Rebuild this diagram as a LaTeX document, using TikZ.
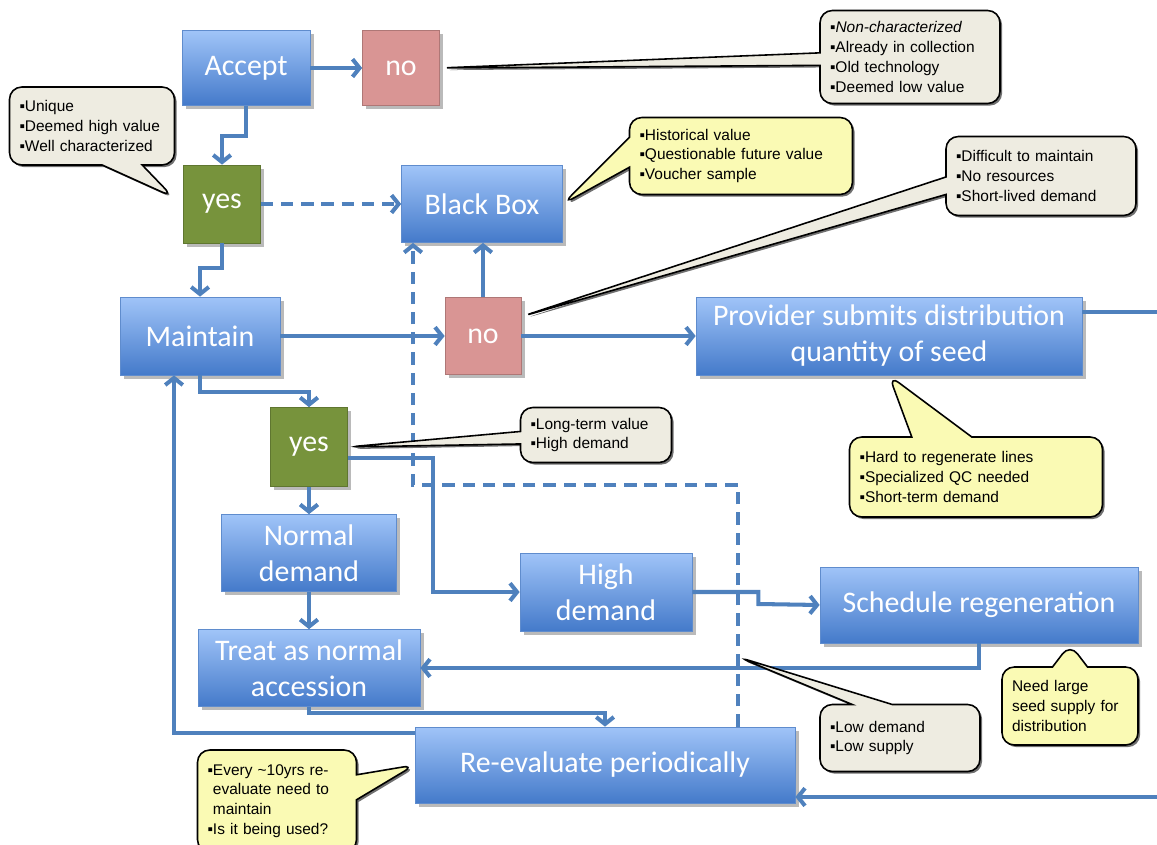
\documentclass[tikz,border=0pt]{standalone}
\usepackage{fontspec}
\setmainfont{Carlito}
\newfontfamily\notefont{Liberation Sans}
\usetikzlibrary{arrows.meta,shapes.callouts,shadows,calc}
\definecolor{boxtop}{RGB}{160,196,248}
\definecolor{boxbot}{RGB}{68,122,202}
\definecolor{boxline}{RGB}{95,140,205}
\definecolor{nofill}{RGB}{217,149,148}
\definecolor{yesfill}{RGB}{119,147,60}
\definecolor{flowblue}{RGB}{79,129,189}
\definecolor{notegray}{RGB}{238,236,225}
\definecolor{noteyellow}{RGB}{250,250,180}
\begin{document}
\begin{tikzpicture}[x=0.02cm,y=-0.02cm,
  boxsize/.style 2 args={minimum width=#1*0.02cm, minimum height=#2*0.02cm},
  boxshadow/.style={drop shadow={shadow xshift=2pt,shadow yshift=-2pt,fill=black!45,opacity=.6}},
  plainbox/.style={text=white, inner sep=0pt, align=center,
    font=\fontsize{17}{20.5}\selectfont, boxshadow},
  bluebox/.style={plainbox, draw=boxline, top color=boxtop, bottom color=boxbot},
  nobox/.style={plainbox, fill=nofill, draw=nofill!80!black},
  yesbox/.style={plainbox, fill=yesfill, draw=yesfill!80!black},
  note/.style={rectangle callout, draw=black, line width=0.9pt, rounded corners=7pt, align=left,
    inner xsep=0.2cm, inner ysep=0pt, font=\notefont\fontsize{8.8}{11.3}\selectfont,
    drop shadow={shadow xshift=1.2pt,shadow yshift=-1.2pt,fill=black!80,opacity=.7}},
  graynote/.style={note, fill=notegray},
  yellownote/.style={note, fill=noteyellow},
  flow/.style={draw=flowblue, line width=2.3pt, -{Straight Barb[length=4pt,width=10pt]}},
  dashflow/.style={flow, dash pattern=on 7pt off 4.5pt}
]
\useasboundingbox (0,0) rectangle (1157,845);
\clip (0,0) rectangle (1157,845);

\node[bluebox, boxsize={128}{75}] (accept) at (246,68) {Accept};
\node[nobox, boxsize={77}{75}] (no1) at (401,68) {no};
\node[yesbox, boxsize={77}{78}] (yes1) at (222,204) {yes};
\node[bluebox, boxsize={161}{77}] (blackbox) at (482,204) {Black Box};
\node[bluebox, boxsize={160}{78}] (maintain) at (200,336) {Maintain};
\node[nobox, boxsize={76}{77}] (no2) at (483,336) {no};
\node[bluebox, boxsize={386}{78}] (provider) at (889,336) {Provider submits distribution\\quantity of seed};
\node[yesbox, boxsize={77}{79}] (yes2) at (309,447) {yes};
\node[bluebox, boxsize={175}{77}] (normal) at (309,553) {Normal\\demand};
\node[bluebox, boxsize={172}{78}] (high) at (606,592) {High\\demand};
\node[bluebox, boxsize={222}{77}] (treat) at (309,668) {Treat as normal\\accession};
\node[bluebox, boxsize={318}{76}] (schedule) at (979,605) {Schedule regeneration};
\node[bluebox, boxsize={380}{76}] (reeval) at (605,765) {Re-evaluate periodically};

\coordinate (rtop) at (1175,312);
\coordinate (rbot) at (1175,797);

\draw[flow] (accept.east) -- (no1.west);
\draw[flow] (accept.south) -- ++(0,30) -| (yes1.north);
\draw[dashflow] (yes1.east) -- (blackbox.west);
\draw[flow] (yes1.south) -- ++(0,25) -| (maintain.north);
\draw[flow] (maintain.east) -- (no2.west);
\draw[flow] (no2.north) -- (no2.north |- blackbox.south);
\draw[flow] (no2.east) -- (provider.west);
\draw[flow] (provider.east |- rtop) -- (rtop) -- (rbot) -- (reeval.east |- rbot);
\draw[flow] (maintain.south) -- ++(0,17) -| (yes2.north);
\draw[flow] (yes2.south) -- (normal.north);
\draw[flow] (yes2.east) ++(0,11) -- ++(85,0) |- (high.west);
\draw[flow] (normal.south) -- (treat.north);
\draw[flow] (high.east) -- ++(66,0) -- ++(0,12) -- (schedule.west);
\draw[flow] (schedule.south) |- (treat.east);
\draw[flow] (treat.south) -- ++(0,6) -| (reeval.north);
\draw[flow] (reeval.west) ++(0,-32) -| ($(maintain.south)+(-26,0)$);
\draw[dashflow] (reeval.north) ++(133,0) -- ++(0,-242) -| ($(blackbox.south)+(-69,0)$);

\coordinate (uniquetip) at (173,197);
\coordinate (lowtip) at (738,657);
\coordinate (needtip) at (1070,644);

\node[graynote, boxsize={180}{93}, text width=3.2cm, callout pointer width=0.25cm,
  callout absolute pointer={(no1.east)}] (noteno) at (910,57)
  {▪\textit{Non-characterized}\\▪Already in collection\\▪Old technology\\▪Deemed low value};
\node[graynote, boxsize={165}{78}, text width=2.9cm, callout pointer width=0.8cm,
  callout absolute pointer={(uniquetip)}] (noteyes) at (92,126)
  {▪Unique\\▪Deemed high value\\▪Well characterized};
\node[yellownote, boxsize={223}{77}, text width=4.06cm, callout pointer width=0.6cm,
  callout absolute pointer={(blackbox.east)}] (notebox) at (741,156)
  {▪Historical value\\▪Questionable future value\\▪Voucher sample};
\node[graynote, boxsize={190}{79}, text width=3.4cm, callout pointer width=0.35cm,
  callout absolute pointer={($(no2.north east)!0.25!(no2.south east)$)}] (notemaint) at (1041,176)
  {▪Difficult to maintain\\▪No resources\\▪Short-lived demand};
\node[yellownote, boxsize={253}{80}, text width=4.66cm, callout pointer width=1.2cm,
  callout absolute pointer={(provider.south)}] (noteprov) at (976,477)
  {▪Hard to regenerate lines\\▪Specialized QC needed\\▪Short-term demand};
\node[graynote, boxsize={151}{55}, text width=2.62cm, callout pointer width=0.25cm,
  callout absolute pointer={(yes2.east)}] (notelong) at (596,435)
  {▪Long-term value\\▪High demand};
\node[graynote, boxsize={160}{67}, text width=2.8cm, callout pointer width=0.8cm,
  callout absolute pointer={(lowtip)}] (notelow) at (900,738)
  {▪Low demand\\▪Low supply};
\node[yellownote, boxsize={136}{78}, text width=2.32cm, callout pointer width=0.7cm,
  callout absolute pointer={(needtip)}] (noteneed) at (1070,706)
  {Need large\\seed supply for\\distribution};
\node[yellownote, boxsize={159}{102}, text width=2.78cm, callout pointer width=0.5cm,
  callout absolute pointer={(reeval.west)}] (noteevery) at (277,801)
  {▪Every \textasciitilde10yrs re-\\\phantom{▪}evaluate need to\\\phantom{▪}maintain\\▪Is it being used?};
\end{tikzpicture}
\end{document}
